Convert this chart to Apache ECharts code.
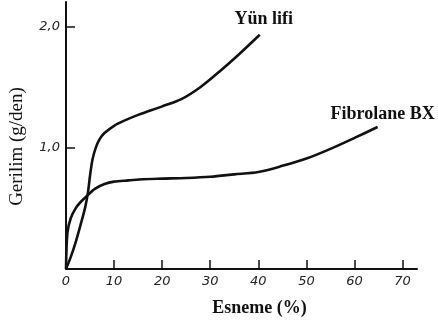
<!DOCTYPE html>
<html>
<head>
<meta charset="utf-8">
<script src="https://cdn.jsdelivr.net/npm/echarts@6/dist/echarts.min.js"></script>
<style>
  html, body { margin: 0; padding: 0; background: #fff; }
  #chart { width: 438px; height: 322px; }
</style>
</head>
<body>
<div id="chart"></div>
<script>
// values
const woolX = [0, 1, 2, 3, 4, 4.6, 5.0, 5.5, 6.2, 7, 8, 10, 12, 15, 20, 24, 28, 32, 36, 40.3];
const woolY = [0, 0.1, 0.22, 0.36, 0.51, 0.64, 0.77, 0.9, 1.0, 1.07, 1.12, 1.18, 1.22, 1.27, 1.34, 1.4, 1.5, 1.63, 1.77, 1.93];

const fibroX = [0, 0.3, 1, 2, 3, 4.3, 6, 8, 10, 13, 16, 20, 25, 30, 35, 40, 45, 50, 55, 60, 64.8];
const fibroY = [0, 0.3, 0.42, 0.5, 0.55, 0.6, 0.66, 0.7, 0.72, 0.73, 0.74, 0.745, 0.75, 0.76, 0.78, 0.8, 0.85, 0.91, 0.99, 1.08, 1.17];

const xTicks = [0, 10, 20, 30, 40, 50, 60, 70];
const yTicks = [1, 2];

const seriesNames = ["Yün lifi", "Fibrolane BX"];

const ink = "#111";
const tickFont = { fontFamily: "DejaVu Sans", fontStyle: "italic", fontSize: 13, color: "#222" };

function pairs(xs, ys) {
  return xs.map((x, i) => [x, ys[i]]);
}

function withEndLabel(data, name, offset) {
  const last = data.length - 1;
  return data.map((d, i) => i === last ? {
    value: d,
    label: {
      show: true, formatter: name, position: "top", distance: 2, offset: offset,
      fontFamily: "Liberation Serif", fontWeight: "bold", fontSize: 18, color: ink
    }
  } : d);
}

const chart = echarts.init(document.getElementById("chart"));

chart.setOption({
  animation: false,
  grid: { left: 61, right: 21, top: 2, bottom: 52, containLabel: false },
  xAxis: {
    type: "value",
    min: 0,
    max: 73,
    interval: 10,
    name: "Esneme (%)",
    nameLocation: "middle",
    nameGap: 30,
    nameTextStyle: {
      fontFamily: "Liberation Serif", fontWeight: "bold", fontSize: 18, color: ink,
      padding: [0, 0, 0, 36]
    },
    axisLine: { lineStyle: { color: ink, width: 2 } },
    axisTick: { inside: true, length: 9, customValues: xTicks.slice(1), lineStyle: { color: ink, width: 1.5 } },
    axisLabel: Object.assign({ margin: 6, customValues: xTicks }, tickFont),
    splitLine: { show: false }
  },
  yAxis: {
    type: "value",
    min: 0,
    max: 2.2,
    interval: 1,
    name: "Gerilim (g/den)",
    nameLocation: "middle",
    nameGap: 39,
    nameTextStyle: {
      fontFamily: "Liberation Serif", fontSize: 19, color: ink,
      padding: [0, 22, 0, 0]
    },
    axisLine: { show: true, lineStyle: { color: ink, width: 2 } },
    axisTick: { show: true, inside: true, length: 9, customValues: yTicks, lineStyle: { color: ink, width: 1.5 } },
    axisLabel: Object.assign({
      margin: 6,
      customValues: yTicks,
      formatter: (v) => v.toFixed(1).replace(".", ",")
    }, tickFont),
    splitLine: { show: false }
  },
  series: [
    {
      name: seriesNames[0],
      type: "line",
      smooth: 0.3,
      showSymbol: true,
      symbolSize: 0,
      lineStyle: { color: ink, width: 2.6 },
      data: withEndLabel(pairs(woolX, woolY), seriesNames[0], [4, -4])
    },
    {
      name: seriesNames[1],
      type: "line",
      smooth: 0.3,
      showSymbol: true,
      symbolSize: 0,
      lineStyle: { color: ink, width: 2.6 },
      data: withEndLabel(pairs(fibroX, fibroY), seriesNames[1], [5, -2])
    }
  ]
});
</script>
</body>
</html>
